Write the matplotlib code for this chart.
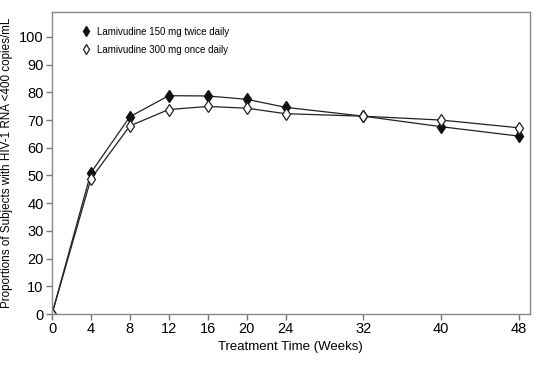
import matplotlib
matplotlib.use("Agg")
import matplotlib.pyplot as plt

# 数据：治疗周数与病毒抑制比例
weeks = [0, 4, 8, 12, 16, 20, 24, 32, 40, 48]
twice_daily = [0, 51, 71.2, 78.8, 78.7, 77.5, 74.6, 71.4, 67.6, 64.2]
once_daily = [0, 48.8, 67.9, 73.8, 74.9, 74.3, 72.3, 71.4, 70.0, 67.2]
xticks = [0, 4, 8, 12, 16, 20, 24, 32, 40, 48]
yticks = list(range(0, 101, 10))

plt.rcParams['font.family'] = ['Liberation Sans', 'DejaVu Sans']

fig = plt.figure(figsize=(5.4, 3.65), dpi=100)
ax = fig.add_axes([0.0963, 0.1397, 0.8847, 0.8274])

ax.plot(weeks, twice_daily, color='#222222', lw=0.9, marker='d', ms=6,
        mfc='#111111', mec='#111111', label='Lamivudine 150 mg twice daily')
ax.plot(weeks, once_daily, color='#222222', lw=0.9, marker='d', ms=6.5,
        mfc='white', mec='#222222', mew=0.9, label='Lamivudine 300 mg once daily')

ax.set_xlim(0, 49.1)
ax.set_ylim(0, 109)
ax.set_xticks(xticks)
ax.set_yticks(yticks)
ax.tick_params(labelsize=10.5, color='#777777', length=4, width=1, pad=2)
for s in ax.spines.values():
    s.set_color('#888888')
    s.set_linewidth(1)

ax.set_xlabel('Treatment Time (Weeks)', fontsize=9.5, labelpad=3)
ax.set_ylabel('Proportions of Subjects with HIV-1 RNA <400 copies/mL', fontsize=8.4,
              labelpad=4)

leg = ax.legend(loc='upper left', bbox_to_anchor=(0.04, 0.98), frameon=False,
                fontsize=7, handlelength=1.2, handletextpad=0.6, labelspacing=0.8,
                markerscale=0.85)
for h in leg.legend_handles:
    h.set_linestyle('none')

plt.savefig('out.png', dpi=100)
